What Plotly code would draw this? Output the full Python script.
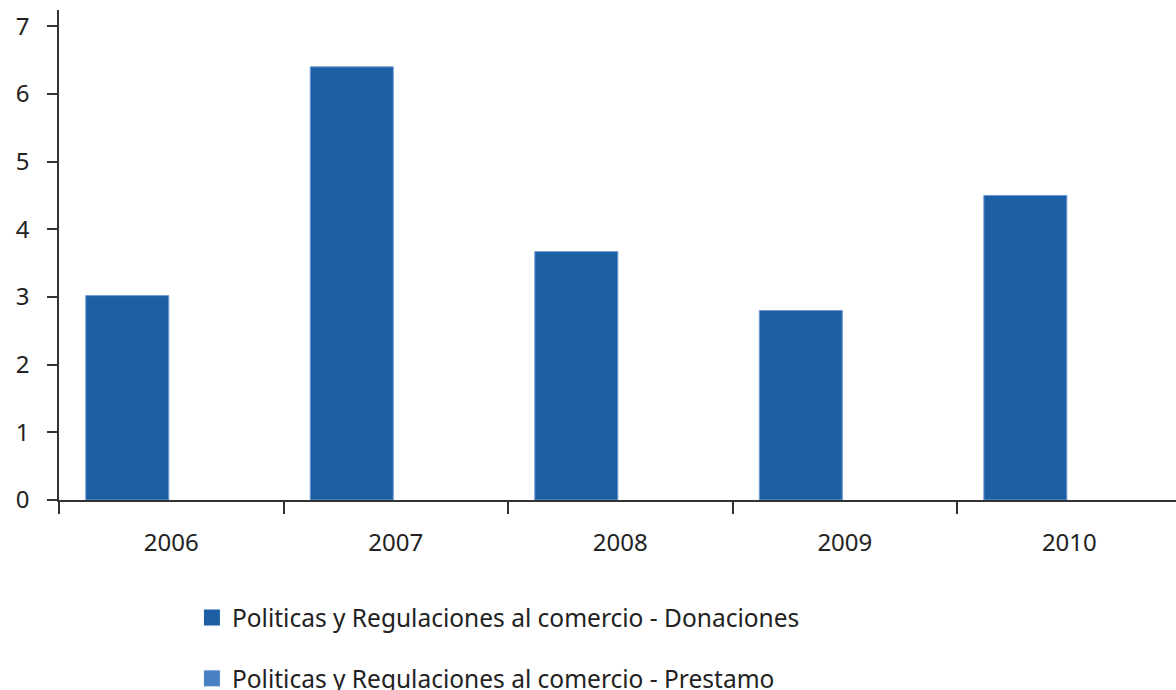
import plotly.graph_objects as go

# Annual amounts by year
years = ["2006", "2007", "2008", "2009", "2010"]
donaciones = [3.02, 6.40, 3.67, 2.80, 4.50]
prestamo = [0, 0, 0, 0, 0]

series_names = [
    "Politicas y Regulaciones al comercio - Donaciones",
    "Politicas y Regulaciones al comercio - Prestamo",
]
series_colors = ["#1c5fa4", "#4a80c4"]

font_family = "Noto Sans, DejaVu Sans, sans-serif"
text_color = "#222222"

fig = go.Figure()
fig.add_trace(go.Bar(
    x=years, y=donaciones, name=series_names[0],
    marker=dict(color=series_colors[0], line=dict(color="#6e98d2", width=1)),
    legendgroup="a", showlegend=False,
))
fig.add_trace(go.Bar(
    x=years, y=prestamo, name=series_names[1],
    marker=dict(color=series_colors[1], line=dict(width=0)),
    legendgroup="b", showlegend=False,
))

# Legend keys: larger square swatches tied to each bar series
for name, color, group in zip(series_names, series_colors, ["a", "b"]):
    fig.add_trace(go.Scatter(
        x=[None], y=[None], mode="markers", name=name,
        marker=dict(symbol="square", size=16, color=color),
        legendgroup=group, showlegend=True, hoverinfo="skip",
    ))

fig.update_layout(
    width=1176, height=690,
    margin=dict(l=59, r=0, t=10, b=190, autoexpand=False),
    paper_bgcolor="white", plot_bgcolor="white",
    barmode="group", bargap=0.216, bargroupgap=0.057,
    font=dict(family=font_family, size=24, color=text_color),
    showlegend=True,
    legend=dict(
        x=0.119, xanchor="left", y=-0.194, yanchor="top",
        orientation="v", traceorder="grouped", tracegroupgap=26,
        font=dict(family=font_family, size=24.5, color=text_color),
        bgcolor="rgba(0,0,0,0)",
    ),
    xaxis=dict(
        type="category", range=[-0.5, 4.475],
        showline=True, linecolor="#333333", linewidth=1.5,
        ticks="outside", tickson="boundaries", ticklen=12,
        tickcolor="#333333", tickwidth=1.5,
        showgrid=False, zeroline=False,
        ticklabelstandoff=20,
        tickfont=dict(size=24),
    ),
    yaxis=dict(
        range=[0, 7.24], dtick=1, tick0=0,
        showline=True, linecolor="#333333", linewidth=1.5,
        ticks="outside", ticklen=10, tickcolor="#333333", tickwidth=1.5,
        showgrid=False, zeroline=False,
        ticklabelstandoff=13,
        tickfont=dict(size=24),
    ),
)

fig.write_html("out.html")
